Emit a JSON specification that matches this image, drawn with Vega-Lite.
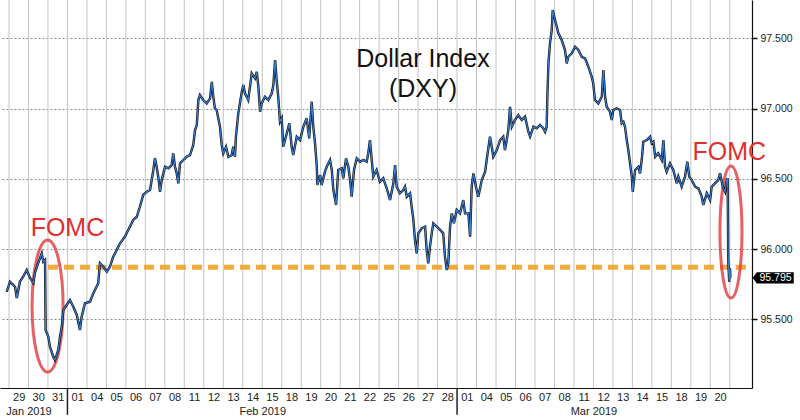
{
  "$schema": "https://vega.github.io/schema/vega-lite/v6.json",
  "width": 752,
  "height": 388,
  "autosize": {"type": "none"},
  "padding": {"left": 0, "top": 0, "right": 48, "bottom": 32},
  "background": "white",
  "config": {"view": {"stroke": null}},
  "datasets": {
    "dxy": [
      {"d":-0.12,"p":95.696},{"d":0.05,"p":95.768},{"d":0.31,"p":95.732},{"d":0.40,"p":95.652},{"d":0.56,"p":95.768},{"d":0.73,"p":95.803},{"d":0.91,"p":95.851},{"d":1.08,"p":95.794},{"d":1.25,"p":95.758},{"d":1.33,"p":95.830},{"d":1.50,"p":95.901},{"d":1.68,"p":95.970},{"d":1.76,"p":95.910},{"d":1.85,"p":95.922},{"d":1.88,"p":95.424},{"d":2.02,"p":95.376},{"d":2.10,"p":95.305},{"d":2.27,"p":95.234},{"d":2.36,"p":95.210},{"d":2.53,"p":95.282},{"d":2.62,"p":95.376},{"d":2.71,"p":95.447},{"d":2.79,"p":95.566},{"d":2.96,"p":95.602},{"d":3.13,"p":95.637},{"d":3.30,"p":95.590},{"d":3.48,"p":95.531},{"d":3.64,"p":95.424},{"d":3.73,"p":95.519},{"d":3.90,"p":95.614},{"d":4.16,"p":95.625},{"d":4.33,"p":95.685},{"d":4.58,"p":95.756},{"d":4.67,"p":95.899},{"d":4.84,"p":95.874},{"d":5.02,"p":95.839},{"d":5.18,"p":95.874},{"d":5.35,"p":95.946},{"d":5.53,"p":95.993},{"d":5.70,"p":96.041},{"d":5.95,"p":96.088},{"d":6.12,"p":96.136},{"d":6.38,"p":96.207},{"d":6.56,"p":96.230},{"d":6.72,"p":96.301},{"d":6.89,"p":96.385},{"d":7.07,"p":96.408},{"d":7.24,"p":96.420},{"d":7.41,"p":96.563},{"d":7.49,"p":96.648},{"d":7.58,"p":96.586},{"d":7.66,"p":96.515},{"d":7.75,"p":96.408},{"d":7.84,"p":96.491},{"d":8.01,"p":96.586},{"d":8.18,"p":96.575},{"d":8.35,"p":96.598},{"d":8.43,"p":96.681},{"d":8.52,"p":96.586},{"d":8.61,"p":96.539},{"d":8.69,"p":96.468},{"d":8.78,"p":96.610},{"d":8.95,"p":96.634},{"d":9.12,"p":96.657},{"d":9.29,"p":96.669},{"d":9.46,"p":96.741},{"d":9.55,"p":96.847},{"d":9.64,"p":96.883},{"d":9.72,"p":97.061},{"d":9.80,"p":97.096},{"d":9.97,"p":97.061},{"d":10.15,"p":97.037},{"d":10.32,"p":97.073},{"d":10.41,"p":97.191},{"d":10.49,"p":97.084},{"d":10.57,"p":97.002},{"d":10.66,"p":96.990},{"d":10.83,"p":96.871},{"d":10.92,"p":96.741},{"d":11.00,"p":96.681},{"d":11.14,"p":96.728},{"d":11.26,"p":96.657},{"d":11.43,"p":96.669},{"d":11.51,"p":96.728},{"d":11.60,"p":96.657},{"d":11.65,"p":96.800},{"d":11.77,"p":96.966},{"d":11.95,"p":97.120},{"d":12.03,"p":97.168},{"d":12.11,"p":97.109},{"d":12.28,"p":97.061},{"d":12.46,"p":97.251},{"d":12.63,"p":97.215},{"d":12.72,"p":97.262},{"d":12.80,"p":97.156},{"d":12.89,"p":96.978},{"d":12.97,"p":97.037},{"d":13.14,"p":97.084},{"d":13.31,"p":97.061},{"d":13.49,"p":97.109},{"d":13.57,"p":97.168},{"d":13.66,"p":97.346},{"d":13.74,"p":97.203},{"d":13.82,"p":97.084},{"d":13.91,"p":96.906},{"d":14.00,"p":96.931},{"d":14.08,"p":96.728},{"d":14.26,"p":96.824},{"d":14.39,"p":96.895},{"d":14.51,"p":96.728},{"d":14.59,"p":96.669},{"d":14.77,"p":96.800},{"d":14.94,"p":96.776},{"d":15.11,"p":96.871},{"d":15.28,"p":96.931},{"d":15.41,"p":96.788},{"d":15.54,"p":97.049},{"d":15.62,"p":96.871},{"d":15.71,"p":96.753},{"d":15.80,"p":96.586},{"d":15.83,"p":96.456},{"d":15.97,"p":96.527},{"d":16.05,"p":96.456},{"d":16.22,"p":96.551},{"d":16.31,"p":96.586},{"d":16.48,"p":96.634},{"d":16.57,"p":96.563},{"d":16.65,"p":96.420},{"d":16.79,"p":96.314},{"d":16.90,"p":96.563},{"d":17.08,"p":96.575},{"d":17.16,"p":96.504},{"d":17.30,"p":96.646},{"d":17.42,"p":96.586},{"d":17.51,"p":96.491},{"d":17.59,"p":96.373},{"d":17.71,"p":96.563},{"d":17.85,"p":96.646},{"d":18.02,"p":96.622},{"d":18.19,"p":96.634},{"d":18.36,"p":96.622},{"d":18.44,"p":96.681},{"d":18.53,"p":96.776},{"d":18.62,"p":96.634},{"d":18.70,"p":96.515},{"d":18.87,"p":96.563},{"d":19.04,"p":96.479},{"d":19.21,"p":96.504},{"d":19.39,"p":96.432},{"d":19.56,"p":96.349},{"d":19.73,"p":96.468},{"d":19.82,"p":96.598},{"d":19.90,"p":96.444},{"d":20.07,"p":96.397},{"d":20.24,"p":96.420},{"d":20.33,"p":96.444},{"d":20.42,"p":96.373},{"d":20.59,"p":96.397},{"d":20.67,"p":96.301},{"d":20.75,"p":96.219},{"d":20.84,"p":96.064},{"d":20.93,"p":95.970},{"d":21.01,"p":96.112},{"d":21.19,"p":96.148},{"d":21.36,"p":96.159},{"d":21.44,"p":95.993},{"d":21.52,"p":95.899},{"d":21.61,"p":96.017},{"d":21.70,"p":96.112},{"d":21.78,"p":96.183},{"d":21.96,"p":96.159},{"d":22.13,"p":96.136},{"d":22.29,"p":96.112},{"d":22.38,"p":95.946},{"d":22.47,"p":95.851},{"d":22.55,"p":95.899},{"d":22.64,"p":96.159},{"d":22.73,"p":96.254},{"d":22.84,"p":96.183},{"d":22.98,"p":96.278},{"d":23.15,"p":96.254},{"d":23.32,"p":96.349},{"d":23.41,"p":96.254},{"d":23.58,"p":96.254},{"d":23.67,"p":96.088},{"d":23.75,"p":96.444},{"d":23.84,"p":96.539},{"d":23.97,"p":96.444},{"d":24.09,"p":96.373},{"d":24.27,"p":96.491},{"d":24.44,"p":96.551},{"d":24.52,"p":96.634},{"d":24.69,"p":96.800},{"d":24.78,"p":96.728},{"d":24.86,"p":96.657},{"d":25.04,"p":96.705},{"d":25.21,"p":96.776},{"d":25.37,"p":96.800},{"d":25.46,"p":96.705},{"d":25.55,"p":96.776},{"d":25.63,"p":96.847},{"d":25.72,"p":97.013},{"d":25.81,"p":96.871},{"d":25.97,"p":96.919},{"d":26.14,"p":96.954},{"d":26.32,"p":96.919},{"d":26.49,"p":96.942},{"d":26.66,"p":96.835},{"d":26.75,"p":96.800},{"d":26.92,"p":96.871},{"d":27.09,"p":96.859},{"d":27.26,"p":96.883},{"d":27.43,"p":96.859},{"d":27.52,"p":96.835},{"d":27.60,"p":96.871},{"d":27.63,"p":97.061},{"d":27.69,"p":97.322},{"d":27.77,"p":97.464},{"d":27.86,"p":97.559},{"d":27.91,"p":97.701},{"d":28.03,"p":97.630},{"d":28.20,"p":97.536},{"d":28.37,"p":97.488},{"d":28.54,"p":97.417},{"d":28.63,"p":97.322},{"d":28.71,"p":97.369},{"d":28.89,"p":97.393},{"d":29.06,"p":97.440},{"d":29.23,"p":97.417},{"d":29.40,"p":97.369},{"d":29.57,"p":97.358},{"d":29.74,"p":97.298},{"d":29.91,"p":97.227},{"d":29.99,"p":97.180},{"d":30.08,"p":97.061},{"d":30.25,"p":97.037},{"d":30.43,"p":97.084},{"d":30.51,"p":97.274},{"d":30.60,"p":97.084},{"d":30.68,"p":97.013},{"d":30.85,"p":96.978},{"d":30.94,"p":96.919},{"d":31.02,"p":96.990},{"d":31.19,"p":97.002},{"d":31.37,"p":96.990},{"d":31.45,"p":96.895},{"d":31.54,"p":96.906},{"d":31.62,"p":96.871},{"d":31.71,"p":96.776},{"d":31.79,"p":96.705},{"d":31.88,"p":96.610},{"d":31.97,"p":96.515},{"d":32.02,"p":96.408},{"d":32.14,"p":96.563},{"d":32.31,"p":96.586},{"d":32.39,"p":96.539},{"d":32.48,"p":96.634},{"d":32.56,"p":96.764},{"d":32.74,"p":96.776},{"d":32.91,"p":96.800},{"d":32.99,"p":96.753},{"d":33.08,"p":96.764},{"d":33.17,"p":96.657},{"d":33.33,"p":96.681},{"d":33.51,"p":96.634},{"d":33.59,"p":96.776},{"d":33.68,"p":96.586},{"d":33.76,"p":96.551},{"d":33.93,"p":96.610},{"d":34.10,"p":96.563},{"d":34.28,"p":96.468},{"d":34.36,"p":96.515},{"d":34.53,"p":96.444},{"d":34.70,"p":96.515},{"d":34.82,"p":96.622},{"d":34.92,"p":96.515},{"d":35.05,"p":96.491},{"d":35.22,"p":96.444},{"d":35.39,"p":96.432},{"d":35.56,"p":96.373},{"d":35.64,"p":96.314},{"d":35.82,"p":96.397},{"d":35.99,"p":96.349},{"d":36.07,"p":96.444},{"d":36.24,"p":96.468},{"d":36.41,"p":96.491},{"d":36.50,"p":96.539},{"d":36.64,"p":96.444},{"d":36.76,"p":96.408},{"d":36.84,"p":96.491},{"d":36.89,"p":96.504},{"d":36.92,"p":95.922},{"d":36.97,"p":95.766},{"d":37.01,"p":95.865},{"d":37.03,"p":95.795}
    ],
    "daylines": [{"b":0},{"b":1},{"b":2},{"b":3},{"b":4},{"b":5},{"b":6},{"b":7},{"b":8},{"b":9},{"b":10},{"b":11},{"b":12},{"b":13},{"b":14},{"b":15},{"b":16},{"b":17},{"b":18},{"b":19},{"b":20},{"b":21},{"b":22},{"b":23},{"b":24},{"b":25},{"b":26},{"b":27},{"b":28},{"b":29},{"b":30},{"b":31},{"b":32},{"b":33},{"b":34},{"b":35},{"b":36},{"b":37}],
    "months": [{"b": 3}, {"b": 23}],
    "level": [{"d1": 2.0, "d2": 37.85, "p": 95.87}],
    "rings": [{"d": 1.98, "p": 95.595, "which": "jan"}, {"d": 37.06, "p": 96.121, "which": "mar"}],
    "notes": [
      {"d": 21.25, "p": 97.298, "text": "Dollar Index", "kind": "title"},
      {"d": 21.25, "p": 97.084, "text": "(DXY)", "kind": "title"},
      {"d": 3.0, "p": 96.095, "text": "FOMC", "kind": "fomc"},
      {"d": 36.97, "p": 96.634, "text": "FOMC", "kind": "fomc"}
    ],
    "last": [{"d": 39.23, "t": 39.35, "p": 95.795, "text": "95.795"}]
  },
  "layer": [
    {
      "data": {"name": "daylines"},
      "mark": {"type": "rule", "color": "#c4c4c4", "strokeWidth": 1},
      "encoding": {
        "x": {"field": "b", "type": "quantitative", "scale": {"domain": [-0.462, 38.14], "nice": false, "zero": false},
          "axis": {
            "orient": "bottom",
            "title": null,
            "tickCount": 200,
            "values": [0.5,1,1.5,2.5,3.5,4.5,5.5,6.5,7.5,8.5,9.5,10.5,11.5,12.5,13,13.5,14.5,15.5,16.5,17.5,18.5,19.5,20.5,21.5,22.5,23.5,24.5,25.5,26.5,27.5,28.5,29.5,30,30.5,31.5,32.5,33.5,34.5,35.5,36.5],
            "labelExpr": "datum.value % 1 == 0.5 ? ['29','30','31','01','04','05','06','07','08','11','12','13','14','15','18','19','20','21','22','25','26','27','28','01','04','05','06','07','08','11','12','13','14','15','18','19','20'][floor(datum.value)] : (datum.value == 1 ? ['', 'Jan 2019'] : (datum.value == 13 ? ['', 'Feb 2019'] : ['', 'Mar 2019']))",
            "labelOverlap": false,
            "labelFlush": false,
            "labelAngle": 0,
            "labelBaseline": "top",
            "labelLineHeight": 14,
            "labelPadding": 3,
            "labelFont": "Liberation Sans",
            "labelFontSize": 11,
            "labelColor": "#222222",
            "grid": false,
            "ticks": false,
            "domainColor": "#111111",
            "domainWidth": 1.2
          }
        },
        "y": {"datum": 97.773, "type": "quantitative", "scale": {"domain": [95.011, 97.773], "nice": false, "zero": false},
          "axis": {
            "orient": "right",
            "title": null,
            "values": [95.5, 96, 96.5, 97, 97.5],
            "format": ".3f",
            "labelFont": "Liberation Sans",
            "labelFontSize": 10.5,
            "labelColor": "#222222",
            "labelPadding": 3,
            "grid": true,
            "gridColor": "#8a8a8a",
            "gridDash": [2, 2],
            "tickSize": 5,
            "tickColor": "#111111",
            "tickWidth": 1.5,
            "domainColor": "#111111",
            "domainWidth": 1.2
          }
        },
        "y2": {"datum": 95.011}
      }
    },
    {
      "data": {"name": "months"},
      "mark": {"type": "rule", "color": "#222222", "strokeWidth": 1.5},
      "encoding": {
        "x": {"field": "b", "type": "quantitative"},
        "y": {"datum": 94.82, "type": "quantitative"},
        "y2": {"datum": 95.011}
      }
    },
    {
      "data": {"name": "level"},
      "mark": {"type": "rule", "color": "#f2a530", "strokeWidth": 5, "strokeDash": [10, 6], "opacity": 0.95},
      "encoding": {
        "x": {"field": "d1", "type": "quantitative"},
        "x2": {"field": "d2"},
        "y": {"field": "p", "type": "quantitative"}
      }
    },
    {
      "data": {"name": "rings"},
      "mark": {"type": "point", "filled": false, "stroke": "#e0393e", "strokeWidth": 3, "opacity": 0.8, "size": 17424},
      "encoding": {
        "x": {"field": "d", "type": "quantitative"},
        "y": {"field": "p", "type": "quantitative"},
        "shape": {"field": "which", "type": "nominal", "legend": null,
          "scale": {"domain": ["jan", "mar"], "range": [
            "M 0,-1 C 0.1298,-1 0.235,-0.5523 0.235,0 C 0.235,0.5523 0.1298,1 0,1 C -0.1298,1 -0.235,0.5523 -0.235,0 C -0.235,-0.5523 -0.1298,-1 0,-1 Z",
            "M 0,-1 C 0.0922,-1 0.167,-0.5523 0.167,0 C 0.167,0.5523 0.0922,1 0,1 C -0.0922,1 -0.167,0.5523 -0.167,0 C -0.167,-0.5523 -0.0922,-1 0,-1 Z"
          ]}
        }
      }
    },
    {
      "data": {"name": "dxy"},
      "mark": {"type": "line", "color": "#0e141c", "strokeWidth": 2.4, "interpolate": "linear"},
      "encoding": {
        "x": {"field": "d", "type": "quantitative"},
        "y": {"field": "p", "type": "quantitative"}
      }
    },
    {
      "data": {"name": "dxy"},
      "mark": {"type": "line", "color": "#3b7fd4", "strokeWidth": 1.1, "interpolate": "linear"},
      "encoding": {
        "x": {"field": "d", "type": "quantitative"},
        "y": {"field": "p", "type": "quantitative"}
      }
    },
    {
      "data": {"name": "notes"},
      "mark": {"type": "text", "font": "Liberation Sans", "fontSize": 25, "align": "center", "baseline": "alphabetic"},
      "encoding": {
        "x": {"field": "d", "type": "quantitative"},
        "y": {"field": "p", "type": "quantitative"},
        "text": {"field": "text"},
        "color": {"field": "kind", "type": "nominal", "legend": null, "scale": {"domain": ["title", "fomc"], "range": ["#111111", "#e0302f"]}}
      }
    },
    {
      "data": {"name": "last"},
      "mark": {"type": "point", "filled": true, "color": "#000000", "opacity": 1, "size": 1681, "shape": "M -1,0 L -0.8,-0.27 L 1,-0.27 L 1,0.27 L -0.8,0.27 Z"},
      "encoding": {
        "x": {"field": "d", "type": "quantitative"},
        "y": {"field": "p", "type": "quantitative"}
      }
    },
    {
      "data": {"name": "last"},
      "mark": {"type": "text", "font": "Liberation Sans", "fontSize": 10.5, "color": "#ffffff", "align": "center", "baseline": "middle"},
      "encoding": {
        "x": {"field": "t", "type": "quantitative"},
        "y": {"field": "p", "type": "quantitative"},
        "text": {"field": "text"}
      }
    }
  ]
}
